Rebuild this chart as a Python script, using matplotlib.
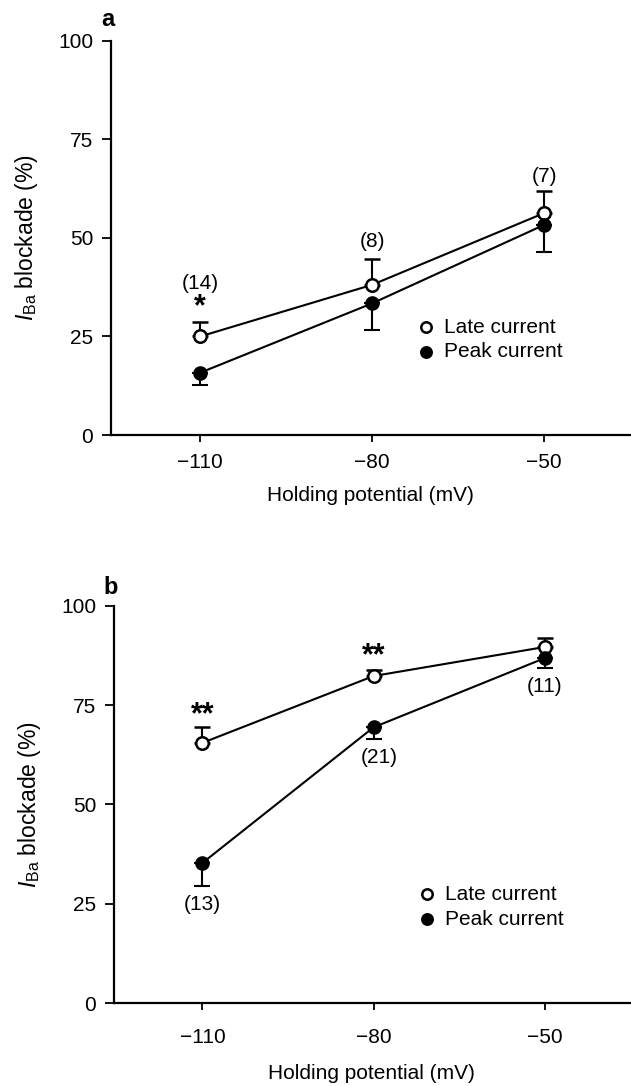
import matplotlib
matplotlib.use("Agg")
import matplotlib.pyplot as plt

plt.rcParams.update({
    "font.family": ["Liberation Sans", "DejaVu Sans"],
    "font.size": 15,
    "mathtext.fontset": "custom",
    "mathtext.rm": "Liberation Sans",
    "mathtext.it": "Liberation Sans:italic",
    "axes.linewidth": 1.6,
})

# %% Data
potential = [-110, -80, -50]

# panel a
a_late = [25.0, 38.1, 56.3]
a_late_err = [3.6, 6.5, 5.5]
a_peak = [15.8, 33.4, 53.3]
a_peak_err = [3.1, 6.8, 7.0]
a_counts = ["(14)", "(8)", "(7)"]
a_count_y = [38.5, 49.0, 65.6]
a_stars = ["*"]
a_star_x = [-110]
a_star_y = [33.4]

# panel b
b_late = [65.5, 82.3, 89.6]
b_late_err = [4.0, 1.6, 2.3]
b_peak = [35.3, 69.4, 86.8]
b_peak_err = [5.8, 2.9, 2.5]
b_counts = ["(13)", "(21)", "(11)"]
b_count_x = [-110, -79, -50]
b_count_y = [24.8, 61.9, 79.6]
b_stars = ["**", "**"]
b_star_x = [-110, -80]
b_star_y = [73.3, 88.2]

legend_labels = ["Late current", "Peak current"]
yticks = [0, 25, 50, 75, 100]


def draw_panel(ax, late, late_err, peak, peak_err, tag, tag_y):
    ax.errorbar(potential, late, yerr=[[0] * 3, late_err], color="black",
                lw=1.5, capsize=6, capthick=1.5, elinewidth=1.5,
                marker="o", ms=9, mfc="white", mec="black", mew=1.8, zorder=3)
    ax.errorbar(potential, peak, yerr=[peak_err, [0] * 3], color="black",
                lw=1.5, capsize=6, capthick=1.5, elinewidth=1.5,
                marker="o", ms=9.5, mfc="black", mec="black", zorder=3)

    ax.set_xlim(-125.6, -35)
    ax.set_ylim(0, 100)
    ax.set_xticks(potential)
    ax.set_yticks(yticks)
    ax.spines[["top", "right"]].set_visible(False)
    ax.tick_params(axis="y", direction="out", length=6.5, width=1.3, pad=6)
    ax.tick_params(axis="x", direction="out", length=5, width=1.3)
    ax.set_ylabel(r"$I_{\rm Ba}$ blockade (%)", labelpad=13, fontsize=16.5)

    # legend drawn by hand
    for i, lab in enumerate(legend_labels):
        yy = 27.4 - i * 6.3
        ax.plot([-70.6], [yy], marker="o", ms=7.5, mew=1.8, mec="black",
                mfc="white" if i == 0 else "black", ls="none", clip_on=False)
        ax.text(-67.5, yy, lab, va="center", ha="left")

    ax.text(-126.1, tag_y, tag, fontweight="bold", ha="center", va="center",
            fontsize=17)


fig = plt.figure(figsize=(6.31, 10.86), dpi=100)
ax_a = fig.add_axes([0.1754, 0.5994, 0.8233, 0.3631])
ax_b = fig.add_axes([0.1799, 0.0762, 0.8188, 0.3661])

draw_panel(ax_a, a_late, a_late_err, a_peak, a_peak_err, "a", 105.3)
ax_a.tick_params(axis="x", pad=8)
ax_a.set_xlabel("Holding potential (mV)", labelpad=10)
for x, y, t in zip(potential, a_count_y, a_counts):
    ax_a.text(x, y, t, ha="center", va="center")
for x, y, t in zip(a_star_x, a_star_y, a_stars):
    ax_a.text(x, y, t, ha="center", va="center_baseline", fontsize=22,
              fontweight="bold")

draw_panel(ax_b, b_late, b_late_err, b_peak, b_peak_err, "b", 104.5)
ax_b.tick_params(axis="x", pad=13)
ax_b.set_xlabel("Holding potential (mV)", labelpad=12)
for x, y, t in zip(b_count_x, b_count_y, b_counts):
    ax_b.text(x, y, t, ha="center", va="center")
for x, y, t in zip(b_star_x, b_star_y, b_stars):
    ax_b.text(x, y, t, ha="center", va="center_baseline", fontsize=22,
              fontweight="bold")

fig.savefig("out.png", dpi=100)
